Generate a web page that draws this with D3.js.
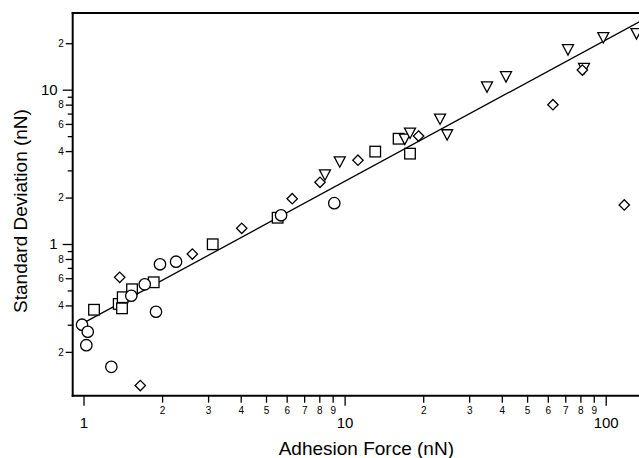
<!DOCTYPE html>
<html>
<head>
<meta charset="utf-8">
<script src="https://cdn.jsdelivr.net/npm/d3@7/dist/d3.min.js"></script>
<style>
  html, body { margin: 0; padding: 0; background: #fff; }
  svg { display: block; font-family: "Liberation Sans", Arial, Helvetica, sans-serif; }
</style>
</head>
<body>
<svg id="chart" width="639" height="458"></svg>
<script>
// Adhesion force (nN) vs. standard deviation (nN), four sample groups
const circleForce = [0.987, 1.038, 1.025, 1.278, 1.524, 1.716, 1.895, 1.963, 2.262, 5.71, 9.13];
const circleSD    = [0.30, 0.270, 0.221, 0.160, 0.462, 0.548, 0.364, 0.739, 0.768, 1.535, 1.84];

const squareForce = [1.097, 1.364, 1.404, 1.413, 1.534, 1.857, 3.125, 5.54, 13.1, 16.1, 17.8];
const squareSD    = [0.375, 0.409, 0.383, 0.452, 0.509, 0.565, 0.996, 1.48, 3.97, 4.81, 3.85];

const diamondForce = [1.650, 1.376, 2.611, 4.036, 6.30, 8.05, 11.25, 19.2, 62.8, 81.4, 117.8];
const diamondSD    = [0.121, 0.608, 0.861, 1.264, 1.966, 2.51, 3.49, 5.01, 7.99, 13.4, 1.79];

const triangleForce = [8.41, 9.58, 17.0, 17.8, 23.2, 24.7, 35.1, 41.5, 71.7, 82.6, 97.9, 131.2];
const triangleSD    = [2.80, 3.40, 4.77, 5.22, 6.43, 5.09, 10.4, 12.1, 18.1, 13.7, 21.7, 23.0];

// Power-law fit, end points
const fitForce = [1.022, 140];
const fitSD    = [0.314, 28.6];

// Axis ticks
const xMajorTicks = [1, 10, 100];
const xMinorTicks = [2, 3, 4, 5, 6, 7, 8, 9, 20, 30, 40, 50, 60, 70, 80, 90];
const yMajorTicks = [1, 10];
const yLabeledMinor = [0.2, 0.4, 0.6, 0.8, 2, 4, 6, 8, 20];
const yPlainMinor = [0.3, 0.5, 0.7, 0.9, 3, 5, 7, 9];

const xTitle = "Adhesion Force (nN)";
const yTitle = "Standard Deviation (nN)";

const svg = d3.select("#chart");

const plotLeft = 72.7, plotTop = 13, plotBottom = 395.7, plotRight = 684.3;
const x = d3.scaleLog().domain([0.909, 200]).range([plotLeft, plotRight]);
const y = d3.scaleLog().domain([0.104, 31.4]).range([plotBottom, plotTop]);

// minor labels show only the leading significant digit
const digit = d => String(d).replace("0.", "")[0];

function styleAxis(g, size) {
  g.select(".domain").remove();
  g.selectAll(".tick line").attr("stroke", "#000").attr("stroke-width", 1.3);
  g.selectAll(".tick text").attr("fill", "#000").attr("font-size", size);
}

// x axis ticks
svg.append("g").attr("transform", `translate(0,${plotBottom})`)
  .call(d3.axisBottom(x).tickValues(xMajorTicks).tickSize(10).tickPadding(12).tickFormat(d3.format("d")))
  .call(g => styleAxis(g, 15));
svg.append("g").attr("transform", `translate(0,${plotBottom})`)
  .call(d3.axisBottom(x).tickValues(xMinorTicks).tickSize(7).tickPadding(4).tickFormat(digit))
  .call(g => styleAxis(g, 10));

// y axis ticks
svg.append("g").attr("transform", `translate(${plotLeft},0)`)
  .call(d3.axisLeft(y).tickValues(yMajorTicks).tickSize(10).tickPadding(5).tickFormat(d3.format("d")))
  .call(g => styleAxis(g, 15));
svg.append("g").attr("transform", `translate(${plotLeft},0)`)
  .call(d3.axisLeft(y).tickValues(yLabeledMinor).tickSize(7).tickPadding(2).tickFormat(digit))
  .call(g => styleAxis(g, 10));
svg.append("g").attr("transform", `translate(${plotLeft},0)`)
  .call(d3.axisLeft(y).tickValues(yPlainMinor).tickSize(5).tickFormat(""))
  .call(g => styleAxis(g, 10));

// frame: left, bottom and top edges
const frame = svg.append("g").attr("stroke", "#000").attr("stroke-width", 2).attr("fill", "none");
frame.append("line").attr("x1", plotLeft).attr("x2", plotLeft).attr("y1", plotTop - 1).attr("y2", plotBottom + 1);
frame.append("line").attr("x1", plotLeft - 1).attr("x2", plotRight).attr("y1", plotBottom).attr("y2", plotBottom);
frame.append("line").attr("x1", plotLeft - 1).attr("x2", plotRight).attr("y1", plotTop).attr("y2", plotTop);

// fit line
svg.append("path")
  .datum(fitForce.map((f, i) => [f, fitSD[i]]))
  .attr("fill", "none").attr("stroke", "#000").attr("stroke-width", 1.3)
  .attr("d", d3.line().x(d => x(d[0])).y(d => y(d[1])));

const pts = (fx, sy) => fx.map((f, i) => [f, sy[i]]);
const markStyle = sel => sel.attr("fill", "#fff").attr("stroke", "#000").attr("stroke-width", 1.3);

// squares
svg.append("g").selectAll("rect").data(pts(squareForce, squareSD)).join("rect")
  .attr("x", d => x(d[0]) - 5.3).attr("y", d => y(d[1]) - 5.3)
  .attr("width", 10.6).attr("height", 10.6)
  .call(markStyle);

// circles
svg.append("g").selectAll("circle").data(pts(circleForce, circleSD)).join("circle")
  .attr("cx", d => x(d[0])).attr("cy", d => y(d[1])).attr("r", 5.7)
  .call(markStyle);

// downward triangles
const tri = "M-5.5,-5.2L5.5,-5.2L0,5.2Z";
svg.append("g").selectAll("path").data(pts(triangleForce, triangleSD)).join("path")
  .attr("d", tri)
  .attr("transform", d => `translate(${x(d[0])},${y(d[1])})`)
  .call(markStyle);

// diamonds
const dia = "M0,-5.2L5.2,0L0,5.2L-5.2,0Z";
svg.append("g").selectAll("path").data(pts(diamondForce, diamondSD)).join("path")
  .attr("d", dia)
  .attr("transform", d => `translate(${x(d[0])},${y(d[1])})`)
  .call(markStyle);

// axis titles
svg.append("text")
  .attr("x", (plotLeft + 660) / 2).attr("y", 455)
  .attr("text-anchor", "middle").attr("font-size", 19).attr("fill", "#000")
  .text(xTitle);
svg.append("text")
  .attr("transform", "translate(27,211) rotate(-90)")
  .attr("text-anchor", "middle").attr("font-size", 19).attr("fill", "#000")
  .text(yTitle);
</script>
</body>
</html>
